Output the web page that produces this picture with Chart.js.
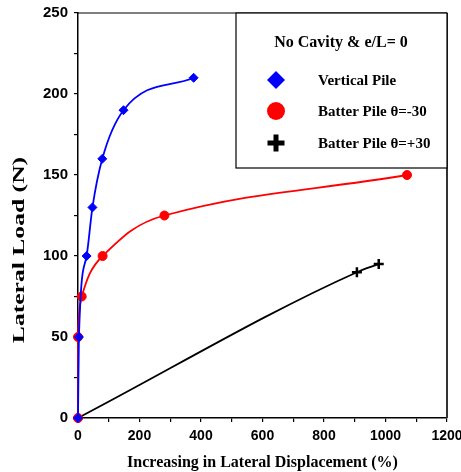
<!DOCTYPE html>
<html>
<head>
<meta charset="utf-8">
<script src="https://cdn.jsdelivr.net/npm/chart.js@4/dist/chart.umd.min.js"></script>
<style>
  html, body { margin: 0; padding: 0; background: #fff; }
  #wrap { width: 461px; height: 472px; }
</style>
</head>
<body>
<div id="wrap"><canvas id="c" width="461" height="472"></canvas></div>
<script>
// ---- Data ----
const dispVertical = [0, 3, 28, 47, 79, 148, 376];
const loadVertical = [0, 50, 100, 130, 160, 190, 210];

const dispBatterNeg = [0, 0, 12, 80, 281, 1070];
const loadBatterNeg = [0, 50, 75, 100, 125, 150];

const dispBatterPos = [0, 907, 978];
const loadBatterPos = [0, 90, 95];

const seriesNames = ['Vertical Pile', 'Batter Pile \u03B8=-30', 'Batter Pile \u03B8=+30'];
const legendTitle = 'No Cavity & e/L= 0';
const xTitle = 'Increasing in Lateral Displacement (%)';
const yTitle = 'Lateral Load (N)';

const xMin = 0, xMax = 1200, xStep = 100, xLabelEvery = 200;
const yMin = 0, yMax = 250, yStep = 25, yLabelEvery = 50;

function pts(xs, ys) { return xs.map((x, i) => ({ x: x, y: ys[i] })); }

const BLUE = '#0000FF', RED = '#FF0000', BLACK = '#000000';
const SERIF = '"Liberation Serif", "Times New Roman", serif';
const SANS = '"Liberation Sans", Arial, sans-serif';

// ---- Plugin: frame, legend box, stretched y title ----
const decor = {
  id: 'decor',
  afterDraw(chart) {
    const ctx = chart.ctx;
    const a = chart.chartArea;
    ctx.save();
    // frame (top + right)
    ctx.strokeStyle = '#000';
    ctx.lineWidth = 1.2;
    ctx.beginPath();
    ctx.moveTo(a.left, a.top);
    ctx.lineTo(a.right, a.top);
    ctx.stroke();
    ctx.strokeStyle = '#333';
    ctx.lineWidth = 2;
    ctx.beginPath();
    ctx.moveTo(a.right, a.top);
    ctx.lineTo(a.right, a.bottom);
    ctx.stroke();

    // legend box
    const bx = 236, by = a.top, bw = a.right - 236, bh = 155;
    ctx.fillStyle = '#fff';
    ctx.fillRect(bx, by, bw, bh);
    ctx.strokeStyle = '#000';
    ctx.lineWidth = 1.2;
    ctx.strokeRect(bx, by, bw, bh);

    ctx.fillStyle = '#000';
    ctx.font = 'bold 16px ' + SERIF;
    ctx.textAlign = 'center';
    ctx.textBaseline = 'middle';
    ctx.fillText(legendTitle, 341, 43);

    const mx = 276, tx = 318;
    const ys = [80, 111, 143];
    // diamond
    ctx.fillStyle = BLUE;
    ctx.beginPath();
    ctx.moveTo(mx - 9, ys[0]); ctx.lineTo(mx, ys[0] - 9);
    ctx.lineTo(mx + 9, ys[0]); ctx.lineTo(mx, ys[0] + 9);
    ctx.closePath(); ctx.fill();
    // circle
    ctx.fillStyle = RED;
    ctx.beginPath();
    ctx.arc(mx, ys[1], 9, 0, Math.PI * 2);
    ctx.fill();
    // cross
    ctx.fillStyle = BLACK;
    ctx.fillRect(mx - 8.5, ys[2] - 2.5, 17, 5);
    ctx.fillRect(mx - 2.5, ys[2] - 8.5, 5, 17);

    ctx.fillStyle = '#000';
    ctx.font = 'bold 15px ' + SERIF;
    ctx.textAlign = 'left';
    for (let i = 0; i < 3; i++) ctx.fillText(seriesNames[i], tx, ys[i] + 1);

    // y title (stretched along its length as in the reference)
    ctx.translate(20, 250);
    ctx.rotate(-Math.PI / 2);
    ctx.scale(1.6, 1);
    ctx.font = 'bold 16px ' + SERIF;
    ctx.textAlign = 'center';
    ctx.textBaseline = 'middle';
    ctx.fillText(yTitle, 0, 0);
    ctx.restore();
  }
};

new Chart(document.getElementById('c'), {
  type: 'line',
  data: {
    datasets: [
      {
        label: seriesNames[0],
        data: pts(dispVertical, loadVertical),
        borderColor: BLUE, backgroundColor: BLUE,
        borderWidth: 1.8, cubicInterpolationMode: 'monotone',
        pointStyle: 'rectRot', pointRadius: 4.5, pointBorderWidth: 1,
        clip: false
      },
      {
        label: seriesNames[1],
        data: pts(dispBatterNeg, loadBatterNeg),
        borderColor: RED, backgroundColor: RED,
        borderWidth: 1.8, tension: 0.4,
        pointStyle: 'circle', pointRadius: 4.5, pointBorderWidth: 1,
        clip: false
      },
      {
        label: seriesNames[2],
        data: pts(dispBatterPos, loadBatterPos),
        borderColor: BLACK, backgroundColor: BLACK,
        borderWidth: 1.8, cubicInterpolationMode: 'monotone',
        pointStyle: 'cross', pointRadius: 5, pointBorderWidth: 2.5,
        clip: false
      }
    ]
  },
  options: {
    responsive: false,
    animation: false,
    devicePixelRatio: 1,
    layout: { padding: { left: 0, right: 14, top: 13, bottom: 0 } },
    plugins: { legend: { display: false }, tooltip: { enabled: false } },
    scales: {
      x: {
        type: 'linear', min: xMin, max: xMax,
        afterFit: s => { s.height = 54; s.paddingLeft = 0; s.paddingRight = 0; },
        border: { display: true, color: '#000', width: 1.5 },
        grid: { drawOnChartArea: false, drawTicks: true, tickLength: 4, color: '#000', lineWidth: 1.2 },
        ticks: {
          stepSize: xStep, autoSkip: false, maxRotation: 0, padding: 6,
          color: '#000', font: { family: SANS, size: 14, weight: 'bold' },
          callback: v => (v % xLabelEvery === 0 ? String(v) : '')
        },
        title: {
          display: true, text: xTitle, color: '#000',
          font: { family: SERIF, size: 16, weight: 'bold' },
          padding: { top: 0, bottom: 0 }
        }
      },
      y: {
        type: 'linear', min: yMin, max: yMax,
        afterFit: s => { s.width = 78; s.paddingTop = 0; s.paddingBottom = 0; },
        border: { display: true, color: '#000', width: 1.5 },
        grid: { drawOnChartArea: false, drawTicks: true, tickLength: 4, color: '#000', lineWidth: 1.2 },
        ticks: {
          stepSize: yStep, autoSkip: false, padding: 6,
          color: '#000', font: { family: SANS, size: 15, weight: 'bold' },
          callback: v => (v % yLabelEvery === 0 ? String(v) : '')
        }
      }
    }
  },
  plugins: [decor]
});
</script>
</body>
</html>
